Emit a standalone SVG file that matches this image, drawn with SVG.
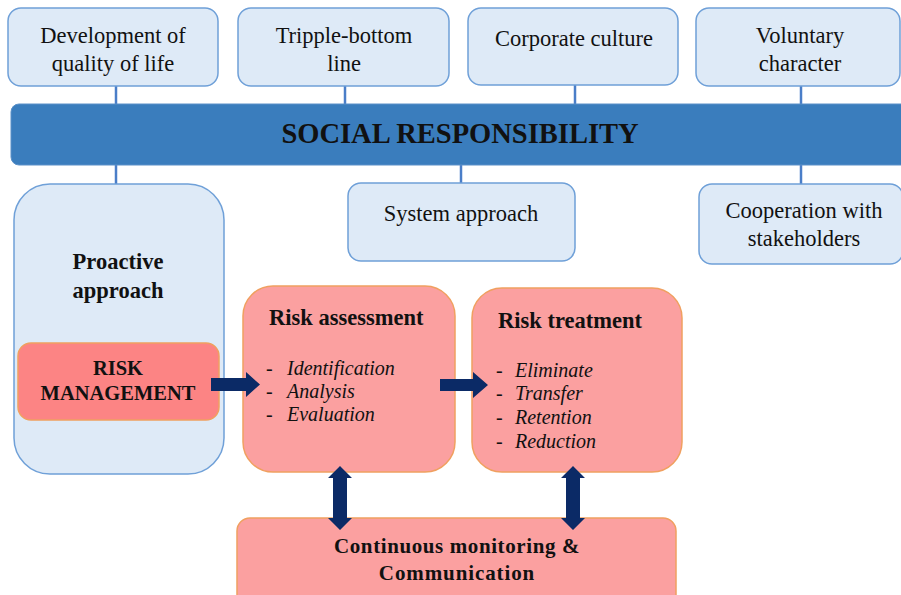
<svg xmlns="http://www.w3.org/2000/svg" width="901" height="595" viewBox="0 0 901 595">
  <style>
    .blue { fill: #deeaf7; stroke: #6fa0d8; stroke-width: 1.5; }
    .pink { fill: #fba0a0; stroke: #f0a060; stroke-width: 1.5; }
    .rm { fill: #fc8484; stroke: #f0a060; stroke-width: 1.5; }
    .link { stroke: #4a7ec8; stroke-width: 2.5; fill: none; }
    .arrow { fill: #0b2a66; }
    text { font-family: "Liberation Serif", "Times New Roman", serif; fill: #111; }
    .c { text-anchor: middle; font-size: 22.5px; }
    .b { font-weight: bold; }
    .i { font-style: italic; font-size: 20px; }
  </style>

  <!-- tree lines between the banner and its boxes -->
  <g id="links">
    <line class="link" x1="116" y1="86" x2="116" y2="105"/>
    <line class="link" x1="345" y1="86" x2="345" y2="105"/>
    <line class="link" x1="575" y1="85" x2="575" y2="105"/>
    <line class="link" x1="801" y1="86" x2="801" y2="105"/>
    <line class="link" x1="116" y1="164" x2="116" y2="185"/>
    <line class="link" x1="461" y1="164" x2="461" y2="183"/>
    <line class="link" x1="801" y1="164" x2="801" y2="185"/>
  </g>

  <g id="quality-of-life">
    <rect class="blue" x="8" y="8" width="210" height="78" rx="13"/>
    <text class="c" x="113" y="43">Development of</text>
    <text class="c" x="113" y="71">quality of life</text>
  </g>
  <g id="triple-bottom-line">
    <rect class="blue" x="238" y="8" width="211" height="78" rx="13"/>
    <text class="c" x="344" y="43">Tripple-bottom</text>
    <text class="c" x="344" y="71">line</text>
  </g>
  <g id="corporate-culture">
    <rect class="blue" x="468" y="8" width="210" height="77" rx="13"/>
    <text class="c" x="574" y="46">Corporate culture</text>
  </g>
  <g id="voluntary-character">
    <rect class="blue" x="696" y="8" width="204" height="78" rx="13"/>
    <text class="c" x="800" y="43">Voluntary</text>
    <text class="c" x="800" y="71">character</text>
  </g>

  <g id="social-responsibility">
    <rect x="11" y="104" width="900" height="61" rx="8" fill="#3a7dbd" stroke="#5a90c8" stroke-width="1"/>
    <text class="c b" x="460" y="143" style="font-size:28.5px">SOCIAL RESPONSIBILITY</text>
  </g>

  <g id="proactive-approach">
    <rect class="blue" x="14" y="184" width="210" height="290" rx="36"/>
    <text class="c b" x="118" y="269" style="font-size:22.5px">Proactive</text>
    <text class="c b" x="118" y="298" style="font-size:22.5px">approach</text>
  </g>
  <g id="system-approach">
    <rect class="blue" x="348" y="183" width="227" height="78" rx="13"/>
    <text class="c" x="461" y="221">System approach</text>
  </g>
  <g id="stakeholders">
    <rect class="blue" x="699" y="184" width="204" height="80" rx="13"/>
    <text class="c" x="804" y="218">Cooperation with</text>
    <text class="c" x="804" y="246">stakeholders</text>
  </g>

  <g id="risk-management">
    <rect class="rm" x="18" y="343" width="201" height="77" rx="13"/>
    <text class="c b" x="118" y="375" style="font-size:20.5px">RISK</text>
    <text class="c b" x="118" y="400" style="font-size:20.5px">MANAGEMENT</text>
  </g>

  <g id="risk-assessment">
    <rect class="pink" x="243" y="286" width="212" height="186" rx="30"/>
    <text class="b" x="269" y="325" style="font-size:22.5px">Risk assessment</text>
    <text class="i" x="266" y="375">-</text><text class="i" x="287" y="375">Identification</text>
    <text class="i" x="266" y="398">-</text><text class="i" x="287" y="398">Analysis</text>
    <text class="i" x="266" y="421">-</text><text class="i" x="287" y="421">Evaluation</text>
  </g>

  <g id="risk-treatment">
    <rect class="pink" x="472" y="288" width="210" height="184" rx="30"/>
    <text class="b" x="498" y="328" style="font-size:22.5px">Risk treatment</text>
    <text class="i" x="496" y="377">-</text><text class="i" x="515" y="377">Eliminate</text>
    <text class="i" x="496" y="400">-</text><text class="i" x="515" y="400">Transfer</text>
    <text class="i" x="496" y="424">-</text><text class="i" x="515" y="424">Retention</text>
    <text class="i" x="496" y="448">-</text><text class="i" x="515" y="448">Reduction</text>
  </g>

  <g id="monitoring">
    <rect class="pink" x="237" y="518" width="439" height="100" rx="13"/>
    <text class="c b" x="457" y="553" style="font-size:21px;letter-spacing:0.6px">Continuous monitoring &amp;</text>
    <text class="c b" x="457" y="580" style="font-size:21px;letter-spacing:0.9px">Communication</text>
  </g>

  <!-- block arrows of the risk process, drawn over the boxes -->
  <g id="connectors">
    <polygon class="arrow" points="211,378 246,378 246,372 260,384.5 246,397 246,391 211,391"/>
    <polygon class="arrow" points="440,379 473,379 473,372 488,385 473,398 473,391 440,391"/>
    <polygon class="arrow" points="340,466 352,478 347,478 347,518 352,518 340,530 328,518 333,518 333,478 328,478"/>
    <polygon class="arrow" points="573,466 585,478 580,478 580,518 585,518 573,530 561,518 566,518 566,478 561,478"/>
  </g>
</svg>
